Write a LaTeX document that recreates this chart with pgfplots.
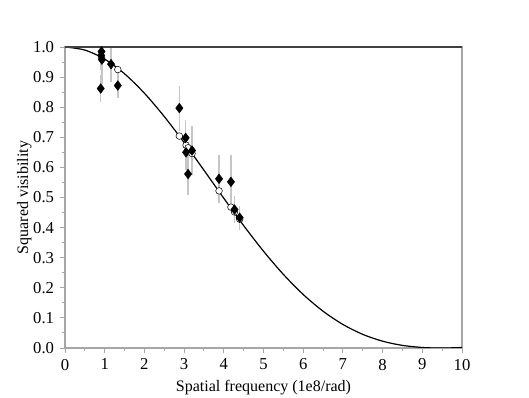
\documentclass[border=0pt]{standalone}
\usepackage{fontspec}
\setmainfont{Liberation Serif}
\usepackage{pgfplots}
\pgfplotsset{compat=1.18}

% fitted model curve (squared visibility)
\pgfplotstableread{
x      y
0      1.0
0.5    0.98977
1      0.95960
1.5    0.91101
2      0.84644
2.5    0.76903
3      0.68244
3.5    0.59062
4      0.49747
4.5    0.40670
5      0.32155
5.5    0.24464
6      0.17784
6.5    0.12225
7      0.07820
7.5    0.04530
8      0.02257
8.5    0.00860
9      0.00169
9.25   0.00033
9.5    0.00002
9.75   0.00053
10     0.00183
}\modeltab

% measured points
\pgfplotstableread{
x     y      e
0.92  0.985  0.03
0.91  0.972  0.05
0.93  0.958  0.08
0.90  0.862  0.045
1.16  0.943  0.06
1.33  0.872  0.04
2.88  0.797  0.075
3.04  0.698  0.06
3.05  0.650  0.06
3.10  0.578  0.07
3.20  0.656  0.08
3.88  0.562  0.08
4.18  0.552  0.09
4.27  0.460  0.045
4.40  0.433  0.04
}\datatab

% model values at the measured frequencies
\pgfplotstableread{
x     y
0.92  0.966
1.33  0.925
2.88  0.704
3.05  0.674
3.10  0.665
3.20  0.646
3.88  0.522
4.18  0.468
4.27  0.452
4.40  0.428
}\fittab

\begin{document}
\fontsize{12}{14}\selectfont
\begin{tikzpicture}
\useasboundingbox (-48.75pt,-37.5pt) rectangle (348pt,261pt);
\begin{axis}[
  scale only axis,
  width=297.75pt, height=225.75pt,
  xmin=0, xmax=10, ymin=0, ymax=1,
  xtick={0,1,2,3,4,5,6,7,8,9,10},
  ytick={0,0.1,0.2,0.3,0.4,0.5,0.6,0.7,0.8,0.9,1.0},
  minor x tick num=1, minor y tick num=1,
  tick pos=left, tick align=outside,
  major tick length=4pt, minor tick length=2.2pt,
  every tick/.style={gray!70, line width=0.7pt},
  axis line style={gray!70, line width=0.9pt},
  yticklabel style={/pgf/number format/.cd, fixed, fixed zerofill, precision=1},
  /pgf/number format/assume math mode=true,
  every tick label/.append style={font=\fontsize{12.5}{15}\selectfont},
  xlabel={Spatial frequency (1e8/rad)},
  ylabel={Squared visibility},
  label style={font=\fontsize{12}{14}\selectfont},
  xlabel style={yshift=1pt},
  ylabel style={yshift=-7pt},
]
\addplot[black, line width=0.9pt, smooth, no marks] table[x=x,y=y] {\modeltab};
\addplot[draw=none, no marks,
  error bars/.cd, y dir=both, y explicit,
  error mark=none, error bar style={gray!45, line width=1.1pt}]
  table[x=x,y=y,y error=e] {\datatab};
\addplot[only marks, mark=*, mark size=2.5pt,
  mark options={fill=white, draw=black, line width=0.4pt}]
  table[x=x,y=y] {\fittab};
\addplot[only marks, mark=diamond*, mark size=3.6pt,
  mark options={fill=black, draw=black}]
  table[x=x,y=y] {\datatab};
\draw[black!75, line width=0.9pt] (rel axis cs:0,1) -- (rel axis cs:1,1);
\end{axis}
\end{tikzpicture}
\end{document}
